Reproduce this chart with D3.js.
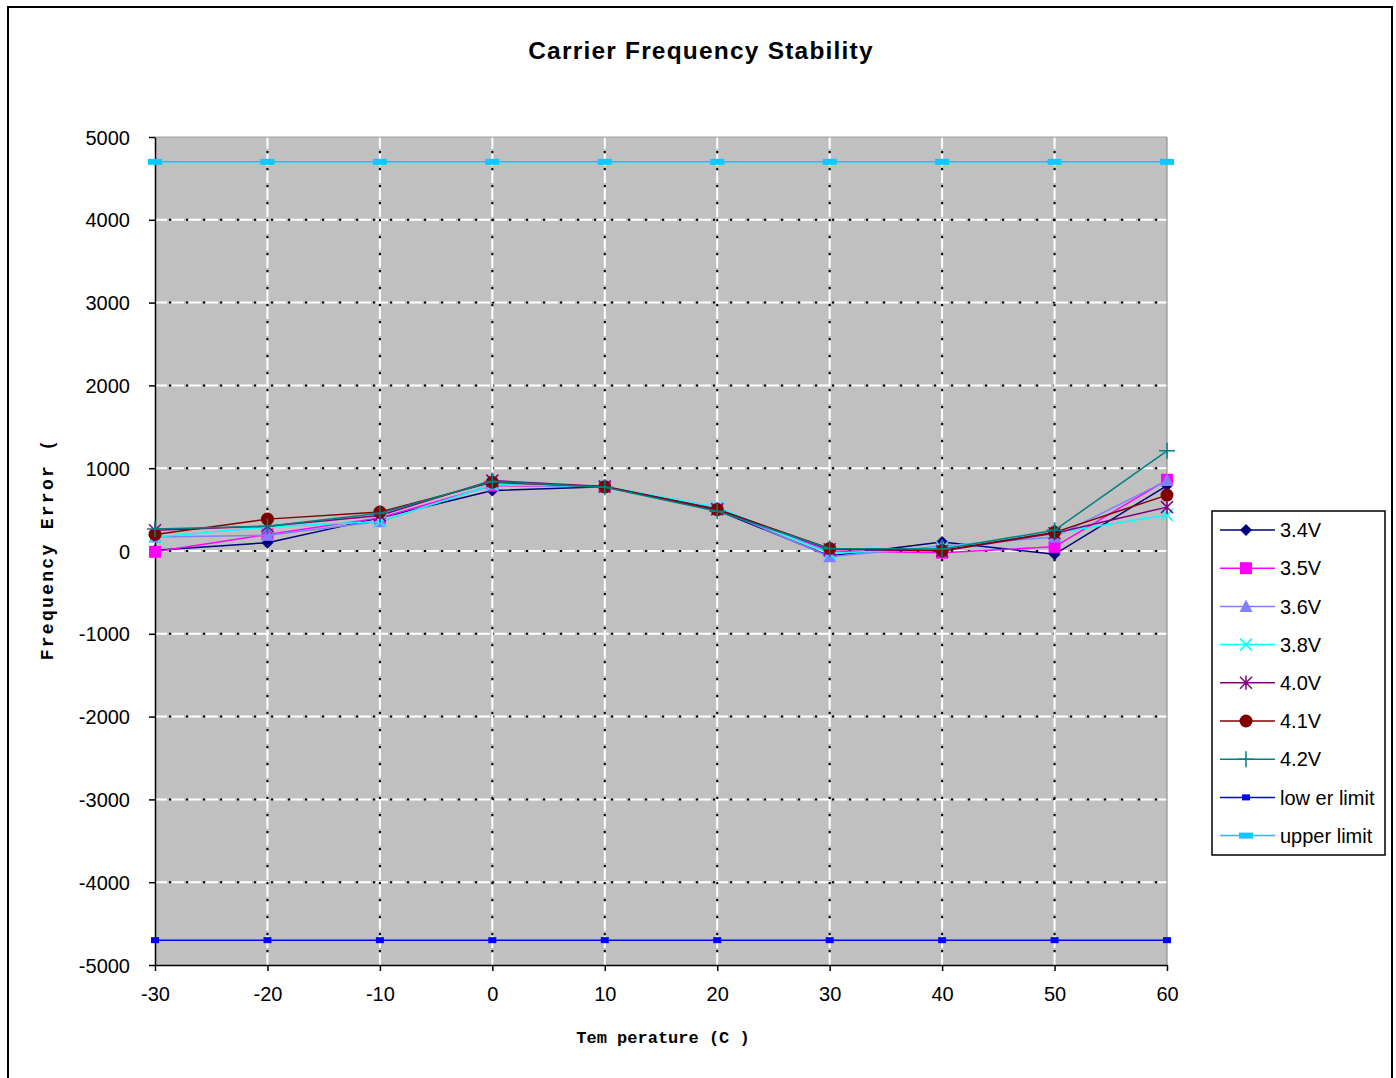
<!DOCTYPE html>
<html><head><meta charset="utf-8">
<script src="https://cdn.jsdelivr.net/npm/d3@7"></script>
<style>body{margin:0;background:#fff;}svg{display:block;}</style>
</head><body>
<svg id="c" width="1396" height="1078"></svg>
<script>
const temperatures = [-30,-20,-10,0,10,20,30,40,50,60];
const v34 = [10, 100, 400, 730, 775, 490, -60, 110, -40, 790];
const v35 = [-10, 200, 400, 790, 775, 505, 0, -20, 50, 860];
const v36 = [170, 190, 355, 800, 780, 510, -70, 60, 170, 850];
const v38 = [170, 290, 355, 800, 780, 530, -30, 40, 215, 435];
const v40 = [250, 300, 430, 850, 780, 505, 20, 0, 215, 530];
const v41 = [200, 385, 470, 830, 775, 500, 30, 5, 225, 675];
const v42 = [265, 300, 455, 840, 770, 480, 30, 25, 250, 1210];
const lowerLimit = [-4700,-4700,-4700,-4700,-4700,-4700,-4700,-4700,-4700,-4700];
const upperLimit = [4700,4700,4700,4700,4700,4700,4700,4700,4700,4700];
const yTicks = [5000,4000,3000,2000,1000,0,-1000,-2000,-3000,-4000,-5000];
const xTicks = [-30,-20,-10,0,10,20,30,40,50,60];

const series = [
  {name:"3.4V", values:v34, color:"#000080", marker:"diamond"},
  {name:"3.5V", values:v35, color:"#FF00FF", marker:"square"},
  {name:"3.6V", values:v36, color:"#8080FF", marker:"triangle"},
  {name:"3.8V", values:v38, color:"#00FFFF", marker:"x"},
  {name:"4.0V", values:v40, color:"#800080", marker:"star"},
  {name:"4.1V", values:v41, color:"#800000", marker:"circle"},
  {name:"4.2V", values:v42, color:"#008080", marker:"plus"},
  {name:"low er limit", values:lowerLimit, color:"#0000FF", marker:"smallrect"},
  {name:"upper limit", values:upperLimit, color:"#00CCFF", marker:"widerect"}
];

const svg = d3.select("#c");
svg.append("rect").attr("x",8).attr("y",7).attr("width",1384).attr("height",1080)
  .attr("fill","#fff").attr("stroke","#000").attr("stroke-width",2);

const L=155, R=1167, T=137, B=965;
const x = d3.scaleLinear().domain([-30,60]).range([L,R]);
const y = d3.scaleLinear().domain([-5000,5000]).range([B,T]);

svg.append("rect").attr("x",L).attr("y",T).attr("width",R-L).attr("height",B-T).attr("fill","#C0C0C0");

const g = svg.append("g");
function gridLine(x1,y1,x2,y2){
  g.append("line").attr("x1",x1).attr("y1",y1).attr("x2",x2).attr("y2",y2)
    .attr("stroke","#fff").attr("stroke-width",2).attr("stroke-dasharray","12,5");
  g.append("line").attr("x1",x1).attr("y1",y1).attr("x2",x2).attr("y2",y2)
    .attr("stroke","#000").attr("stroke-width",2).attr("stroke-dasharray","2,15").attr("stroke-dashoffset",-14);
}
yTicks.filter(t=>t>-5000 && t<5000).forEach(t=>gridLine(L, y(t), R, y(t)));
xTicks.filter(t=>t>-30 && t<60).forEach(t=>gridLine(x(t), T, x(t), B));
svg.append("line").attr("x1",R).attr("x2",R).attr("y1",T).attr("y2",B).attr("stroke","#808080").attr("stroke-width",1);
svg.append("line").attr("x1",L).attr("x2",R).attr("y1",T).attr("y2",T).attr("stroke","#a0a0a0").attr("stroke-width",1);

const fmt = d => String(d).replace("\u2212","-");
const yAxis = d3.axisLeft(y).tickValues(yTicks).tickFormat(fmt).tickSize(6).tickSizeOuter(0).tickPadding(19);
const xAxis = d3.axisBottom(x).tickValues(xTicks).tickFormat(fmt).tickSize(6).tickSizeOuter(0).tickPadding(16);
const ya = svg.append("g").attr("transform",`translate(${L},0)`).call(yAxis);
const xa = svg.append("g").attr("transform",`translate(0,${B})`).call(xAxis);
[ya,xa].forEach(a=>{
  a.selectAll("path,line").attr("stroke","#000").attr("stroke-width",1.5);
  a.selectAll("text").attr("font-family","Arial, 'Liberation Sans', sans-serif").attr("font-size",20).attr("fill","#000");
});
ya.selectAll("text").attr("dy","0.35em");

function drawMarker(sel, type, color, cx, cy){
  const m = sel.append("g").attr("transform",`translate(${cx},${cy})`);
  switch(type){
    case "diamond": m.append("path").attr("d","M0,-6L6,0L0,6L-6,0Z").attr("fill",color); break;
    case "square": m.append("rect").attr("x",-6).attr("y",-6).attr("width",12).attr("height",12).attr("fill",color); break;
    case "triangle": m.append("path").attr("d","M0,-7L6.5,5.5L-6.5,5.5Z").attr("fill",color); break;
    case "x": m.append("path").attr("d","M-6,-6L6,6M-6,6L6,-6").attr("stroke",color).attr("stroke-width",1.5); break;
    case "star": m.append("path").attr("d","M-6,-6L6,6M-6,6L6,-6M0,-7L0,7").attr("stroke",color).attr("stroke-width",1.5); break;
    case "circle": m.append("circle").attr("r",6.5).attr("fill",color); break;
    case "plus": m.append("path").attr("d","M-8,0L8,0M0,-8L0,8").attr("stroke",color).attr("stroke-width",1.5); break;
    case "smallrect": m.append("rect").attr("x",-4).attr("y",-3).attr("width",8).attr("height",6).attr("fill",color); break;
    case "widerect": m.append("rect").attr("x",-7).attr("y",-3).attr("width",14).attr("height",6).attr("fill",color); break;
  }
}

const line = d3.line().x(d=>x(d[0])).y(d=>y(d[1]));
const order = [7,8,0,1,2,3,4,5,6];
order.forEach(i=>{
  const s = series[i];
  const pts = temperatures.map((t,k)=>[t, s.values[k]]);
  const sg = svg.append("g");
  sg.append("path").attr("d",line(pts)).attr("fill","none").attr("stroke",s.color).attr("stroke-width",1.5);
  pts.forEach(p=>drawMarker(sg, s.marker, s.color, x(p[0]), y(p[1])));
});

svg.append("text").attr("x",701).attr("y",59).attr("text-anchor","middle")
  .attr("font-family","Arial, 'Liberation Sans', sans-serif").attr("font-weight","bold").attr("font-size",24.5)
  .attr("letter-spacing",1.2)
  .text("Carrier Frequency Stability");

svg.append("text").attr("x",663).attr("y",1043).attr("text-anchor","middle")
  .attr("font-family","'Courier New', 'Liberation Mono', 'DejaVu Sans Mono', monospace").attr("font-weight","bold").attr("font-size",17)
  .text("Tem perature (C )");
svg.append("text").attr("transform","translate(53,549) rotate(-90)").attr("text-anchor","middle")
  .attr("font-family","'Courier New', 'Liberation Mono', 'DejaVu Sans Mono', monospace").attr("font-weight","bold").attr("font-size",18)
  .attr("letter-spacing",2.3)
  .text("Frequency Error (");

const lg = svg.append("g");
lg.append("rect").attr("x",1212).attr("y",511).attr("width",173).attr("height",344)
  .attr("fill","#fff").attr("stroke","#000").attr("stroke-width",1.5);
series.forEach((s,i)=>{
  const ly = 530 + i*38.2;
  lg.append("line").attr("x1",1220).attr("x2",1275).attr("y1",ly).attr("y2",ly).attr("stroke",s.color).attr("stroke-width",1.5);
  drawMarker(lg, s.marker, s.color, 1246, ly);
  lg.append("text").attr("x",1280).attr("y",ly).attr("dy","0.36em")
    .attr("font-family","Arial, 'Liberation Sans', sans-serif").attr("font-size",20).text(s.name);
});
</script>
</body></html>
